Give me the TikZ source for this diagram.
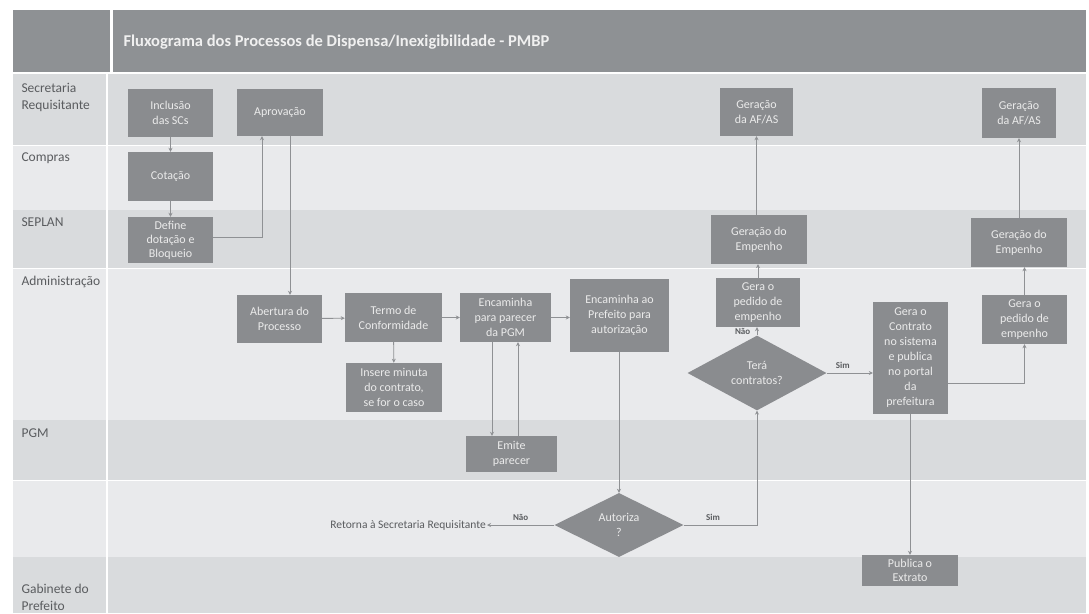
\documentclass[tikz,border=0pt]{standalone}
\usepackage{fontspec}
\setmainfont{Carlito}
\usetikzlibrary{shapes.geometric,arrows.meta}

\definecolor{headgray}{HTML}{8E9194}
\definecolor{lanedark}{HTML}{D9DBDD}
\definecolor{lanelight}{HTML}{E9EAEC}
\definecolor{boxgray}{HTML}{8A8C8F}
\definecolor{linegray}{HTML}{8F9194}
\definecolor{labelgray}{HTML}{5A5C5F}

\tikzset{
  stepbox/.style={rectangle, fill=boxgray, text=white!92!black, align=center,
    inner sep=1pt, font=\fontsize{12}{15}\selectfont},
  decision/.style={diamond, fill=boxgray, text=white!92!black, align=center,
    inner sep=0pt, font=\fontsize{12}{15}\selectfont},
  conn/.style={draw=linegray, line width=0.9pt,
    -{Stealth[length=4pt,width=4pt]}},
  lanelabel/.style={anchor=west, text=labelgray, align=left,
    font=\fontsize{13.5}{17}\selectfont},
  flowlabel/.style={text=labelgray, font=\fontsize{9}{11}\selectfont\bfseries},
}

\begin{document}
\begin{tikzpicture}[x=1pt,y=-1pt]
\useasboundingbox (0,0) rectangle (1089,613);
\fill[white] (0,0) rectangle (1089,613);

% header
\fill[headgray] (13,10) rectangle (110,72);
\fill[headgray] (113,10) rectangle (1086,72);
\node[anchor=west, text=white!94!black, font=\fontsize{16.5}{18}\selectfont\bfseries]
  (title) at (120,42) {Fluxograma dos Processos de Dispensa/Inexigibilidade - PMBP};

% swimlanes
\fill[lanedark]  (13,74)  rectangle (1086,145);
\fill[lanelight] (13,146) rectangle (1086,210);
\fill[lanedark]  (13,210) rectangle (1086,268);
\fill[lanelight] (13,269) rectangle (1086,420);
\fill[lanedark]  (13,420) rectangle (1086,480);
\fill[lanelight] (13,481) rectangle (1086,557);
\fill[lanedark]  (13,557) rectangle (1086,613);
\draw[white, line width=1.2pt] (107,74) -- (107,613);

\node[lanelabel] (l1) at (18,97)  {Secretaria\\Requisitante};
\node[lanelabel] (l2) at (18,158) {Compras};
\node[lanelabel] (l3) at (18,222) {SEPLAN};
\node[lanelabel] (l4) at (18,282) {Administração};
\node[lanelabel] (l5) at (18,433) {PGM};
\node[lanelabel] (l6) at (18,597) {Gabinete do\\Prefeito};

% process steps
\node[stepbox, minimum width=85, minimum height=48] (inc)   at (170.5,113) {Inclusão\\das SCs};
\node[stepbox, minimum width=86, minimum height=47] (aprov) at (280,112.5) {Aprovação};
\node[stepbox, minimum width=85, minimum height=49] (cot)   at (170.5,176.5) {Cotação};
\node[stepbox, minimum width=85, minimum height=46, font=\fontsize{12}{14}\selectfont] (def) at (170.5,240) {Define\\dotação e\\Bloqueio};
\node[stepbox, minimum width=85, minimum height=48] (abert) at (279.5,319) {Abertura do\\Processo};
\node[stepbox, minimum width=97, minimum height=49] (termo) at (393.5,317.5) {Termo de\\Conformidade};
\node[stepbox, minimum width=91, minimum height=49] (encpgm) at (505.5,317.5) {Encaminha\\para parecer\\da PGM};
\node[stepbox, minimum width=99, minimum height=73] (encpref) at (619.5,315.5) {Encaminha ao\\Prefeito para\\autorização};
\node[stepbox, minimum width=96, minimum height=49] (minuta) at (394,387.5) {Insere minuta\\do contrato,\\se for o caso};
\node[stepbox, minimum width=91, minimum height=36] (parecer) at (511.5,454) {Emite\\parecer};
\node[stepbox, minimum width=73, minimum height=48] (af1)  at (756.5,112) {Geração\\da AF/AS};
\node[stepbox, minimum width=74, minimum height=50] (af2)  at (1019,113) {Geração\\da AF/AS};
\node[stepbox, minimum width=96, minimum height=49] (emp1) at (759,239.5) {Geração do\\Empenho};
\node[stepbox, minimum width=96, minimum height=49] (emp2) at (1019,242.5) {Geração do\\Empenho};
\node[stepbox, minimum width=84, minimum height=49] (ped1) at (758,302.5) {Gera o\\pedido de\\empenho};
\node[stepbox, minimum width=85, minimum height=49] (ped2) at (1024.5,319.5) {Gera o\\pedido de\\empenho};
\node[stepbox, minimum width=75, minimum height=112] (contr) at (910.5,358) {Gera o\\Contrato\\no sistema\\e publica\\no portal\\da\\prefeitura};
\node[stepbox, minimum width=96, minimum height=31, font=\fontsize{12}{14}\selectfont] (pub) at (910,570.5) {Publica o\\Extrato};

% decisions
\node[decision, minimum width=139, minimum height=58] (tera) at (757,373) {Terá\\contratos?};
\node[decision, minimum width=129, minimum height=58] (autz) at (619,525) {Autoriza\\?};

% free end of the "Não" branch
\node[anchor=east, text=labelgray, font=\fontsize{11.5}{13}\selectfont, inner sep=1pt]
  (ret) at (487,525) {Retorna à Secretaria Requisitante};

% connectors
\draw[conn] (inc) -- (cot);
\draw[conn] (cot) -- (def);
\draw[conn] (def.east |- 0,237) -| ([xshift=-18]aprov.south);
\draw[conn] ([xshift=10]aprov.south) -- ([xshift=10]aprov.south |- abert.north);
\draw[conn] (abert) -- (termo);
\draw[conn] (termo) -- (encpgm);
\draw[conn] (encpgm.east) -- (encpgm.east -| encpref.west);
\draw[conn] (termo) -- (minuta);
\draw[conn] ([xshift=-13.5]encpgm.south) -- ([xshift=-13.5]encpgm.south |- parecer.north);
\draw[conn] ([xshift=6.5]parecer.north) -- ([xshift=6.5]parecer.north |- encpgm.south);
\draw[conn] (encpref.south -| autz.north) -- (autz.north);
\draw[conn] (autz.west) -- (ret.east) node[flowlabel, pos=0.5, above=1pt] {Não};
\draw[conn] (autz.east) -| (tera.south) node[flowlabel, pos=0.2, above=1pt] {Sim};
\draw[conn] (tera.north) -- (tera.north |- ped1.south) node[flowlabel, pos=0.45, left=3pt] {Não};
\draw[conn] (ped1) -- (emp1.south -| ped1);
\draw[conn] (emp1.north -| af1) -- (af1.south);
\draw[conn] (tera.east) -- (tera.east -| contr.west) node[flowlabel, pos=0.35, above=1pt] {Sim};
\draw[conn] ([yshift=-25]contr.east) -| (ped2.south);
\draw[conn] (ped2.north) -- (ped2.north |- emp2.south);
\draw[conn] (emp2.north) -- (emp2.north |- af2.south);
\draw[conn] (contr.south -| pub) -- (pub.north);
\end{tikzpicture}
\end{document}
